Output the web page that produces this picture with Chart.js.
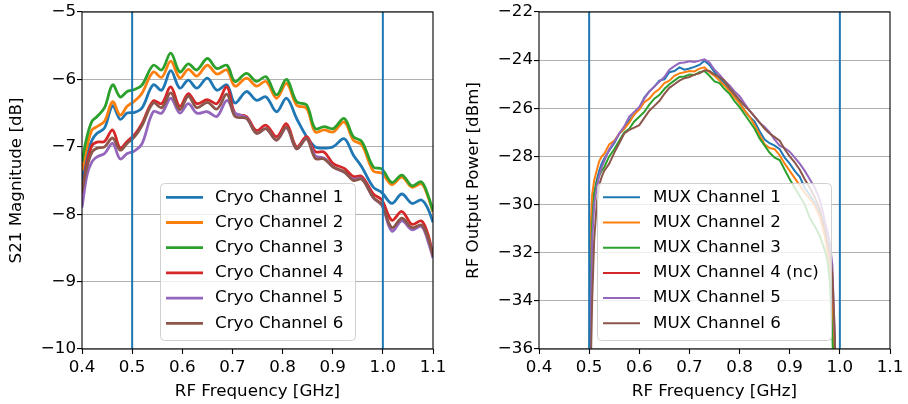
<!DOCTYPE html>
<html>
<head>
<meta charset="utf-8">
<script src="https://cdn.jsdelivr.net/npm/chart.js@4.4.1/dist/chart.umd.min.js"></script>
<style>
    body { margin: 0; background: #fff; }
    #wrap { width: 908px; height: 404px; display: flex; }
    canvas { display: block; }
</style>
</head>
<body>
<div id="wrap">
    <canvas id="chart-cryo" width="454" height="404"></canvas>
    <canvas id="chart-mux" width="454" height="404"></canvas>
</div>
<script>
// left panel: cryo S21 vs frequency
var cryoFreq = [0.400, 0.410, 0.420, 0.430, 0.445, 0.461, 0.476, 0.490, 0.505, 0.520, 0.542, 0.559, 0.577, 0.595, 0.612, 0.629, 0.650, 0.669, 0.689, 0.705, 0.728, 0.748, 0.767, 0.788, 0.808, 0.828, 0.848, 0.865, 0.883, 0.901, 0.923, 0.941, 0.958, 0.981, 0.998, 1.018, 1.038, 1.058, 1.077, 1.090, 1.100];
var cryoCh1 = [-7.50, -7.10, -6.90, -6.80, -6.72, -6.39, -6.59, -6.50, -6.49, -6.42, -6.08, -6.16, -5.87, -6.13, -6.01, -6.13, -5.98, -6.16, -6.08, -6.35, -6.18, -6.31, -6.26, -6.48, -6.28, -6.58, -6.85, -7.00, -7.02, -7.00, -6.88, -7.12, -7.30, -7.60, -7.68, -7.84, -7.70, -7.84, -7.79, -7.92, -8.12];
var cryoCh2 = [-7.35, -7.00, -6.75, -6.70, -6.62, -6.33, -6.53, -6.40, -6.32, -6.20, -5.89, -5.97, -5.73, -5.98, -5.85, -5.95, -5.79, -5.92, -5.86, -6.10, -5.98, -6.10, -6.03, -6.28, -6.06, -6.38, -6.43, -6.78, -6.75, -6.78, -6.63, -6.90, -6.97, -7.36, -7.39, -7.56, -7.45, -7.60, -7.55, -7.74, -7.97];
var cryoCh3 = [-7.22, -6.85, -6.62, -6.55, -6.42, -6.08, -6.26, -6.18, -6.15, -6.08, -5.79, -5.86, -5.61, -5.89, -5.77, -5.86, -5.69, -5.84, -5.79, -6.03, -5.91, -6.03, -5.96, -6.23, -6.00, -6.33, -6.38, -6.73, -6.70, -6.73, -6.58, -6.85, -6.92, -7.30, -7.33, -7.53, -7.42, -7.58, -7.52, -7.72, -7.95];
var cryoCh4 = [-7.70, -7.25, -6.98, -6.93, -6.92, -6.75, -7.02, -6.92, -6.82, -6.65, -6.32, -6.36, -6.11, -6.40, -6.21, -6.36, -6.30, -6.36, -6.11, -6.50, -6.55, -6.76, -6.68, -6.85, -6.66, -7.00, -6.85, -7.07, -7.08, -7.25, -7.32, -7.44, -7.44, -7.70, -7.79, -8.09, -7.96, -8.15, -8.10, -8.30, -8.62];
var cryoCh5 = [-7.90, -7.42, -7.22, -7.15, -7.10, -6.95, -7.18, -7.10, -7.06, -6.95, -6.48, -6.50, -6.28, -6.50, -6.36, -6.50, -6.48, -6.55, -6.31, -6.50, -6.57, -6.80, -6.73, -6.90, -6.72, -7.03, -6.88, -7.13, -7.17, -7.30, -7.38, -7.48, -7.47, -7.76, -7.87, -8.25, -8.10, -8.23, -8.18, -8.40, -8.65];
var cryoCh6 = [-7.65, -7.30, -7.08, -7.02, -7.00, -6.87, -7.05, -6.95, -6.85, -6.68, -6.35, -6.42, -6.20, -6.45, -6.25, -6.42, -6.34, -6.44, -6.22, -6.55, -6.58, -6.80, -6.73, -6.90, -6.71, -7.03, -6.88, -7.17, -7.18, -7.30, -7.37, -7.50, -7.48, -7.75, -7.86, -8.20, -8.06, -8.20, -8.16, -8.35, -8.62];
var cryoLabels = ['Cryo Channel 1', 'Cryo Channel 2', 'Cryo Channel 3', 'Cryo Channel 4', 'Cryo Channel 5', 'Cryo Channel 6'];

// right panel: MUX output power vs frequency
var muxFreq = [0.500, 0.502, 0.504, 0.506, 0.510, 0.515, 0.520, 0.525,
    0.53, 0.54, 0.55, 0.56, 0.57, 0.58, 0.59, 0.60, 0.61, 0.62, 0.63, 0.64, 0.65, 0.66, 0.67, 0.68, 0.69, 0.70, 0.71, 0.72,
    0.73, 0.74, 0.75, 0.76, 0.77, 0.78, 0.79, 0.80, 0.81, 0.82, 0.83, 0.84, 0.85, 0.86, 0.87, 0.88, 0.89, 0.90, 0.91, 0.92,
    0.93, 0.94, 0.95, 0.96, 0.965, 0.970, 0.975, 0.980, 0.985, 0.990, 0.995];
var muxCh1 = [-40, -34, -31.5, -30.3, -29.5, -29.0, -28.6, -28.3,
    -28.1, -27.75, -27.45, -27.05, -26.85, -26.5, -26.25, -26.0, -25.55, -25.3, -25.1, -24.85, -24.8, -24.5, -24.45, -24.3, -24.4, -24.35, -24.28, -24.2,
    -24.02, -24.2, -24.5, -24.75, -24.98, -25.2, -25.5, -25.75, -26.1, -26.35, -26.55, -26.95, -27.3, -27.45, -27.55, -27.7, -28.05, -28.3, -28.6, -28.85,
    -29.3, -29.6, -29.95, -30.4, -30.8, -31.2, -31.7, -32.4, -33.6, -36.5, -42];
var muxCh2 = [-39, -33, -30.5, -29.6, -29.0, -28.6, -28.2, -28.0,
    -27.9, -27.5, -27.35, -27.05, -26.85, -26.6, -26.25, -26.05, -25.75, -25.6, -25.35, -25.2, -24.95, -24.85, -24.65, -24.55, -24.5, -24.45, -24.47, -24.35,
    -24.3, -24.5, -24.65, -24.85, -25.05, -25.3, -25.55, -25.8, -26.1, -26.35, -26.7, -27.1, -27.5, -27.65, -27.7, -27.95, -28.3, -28.6, -28.9, -29.2,
    -29.5, -29.75, -30.05, -30.5, -30.9, -31.3, -31.9, -32.6, -34.0, -37, -42];
var muxCh3 = [-40, -35, -32.5, -30.8, -29.6, -29.1, -28.8, -28.6,
    -28.45, -28.0, -27.7, -27.35, -27.0, -26.85, -26.55, -26.35, -26.15, -25.85, -25.6, -25.45, -25.2, -25.0, -24.85, -24.7, -24.68, -24.6, -24.62, -24.5,
    -24.45, -24.65, -24.88, -24.95, -25.2, -25.4, -25.7, -25.95, -26.25, -26.55, -26.85, -27.25, -27.55, -27.85, -28.05, -28.15, -28.55, -28.95, -29.3, -29.65,
    -30.0, -30.55, -30.9, -31.3, -31.6, -31.9, -32.3, -33.2, -35.5, -38, -42];
var muxCh4 = []; // nc: no trace in range
var muxCh5 = [-41, -36, -33.5, -31.5, -30.0, -29.3, -28.8, -28.45,
    -28.2, -27.7, -27.4, -27.05, -26.75, -26.35, -26.15, -25.95, -25.6, -25.3, -25.1, -24.9, -24.7, -24.4, -24.25, -24.12, -24.1, -24.05, -24.08, -24.02,
    -23.97, -24.1, -24.4, -24.6, -24.85, -25.05, -25.3, -25.5, -25.8, -26.1, -26.35, -26.6, -26.78, -27.0, -27.3, -27.55, -27.65, -27.8, -28.05, -28.3,
    -28.6, -28.95, -29.3, -29.8, -30.2, -30.7, -31.1, -31.6, -32.5, -35.5, -42];
var muxCh6 = [-42, -38, -36, -34.0, -31.5, -30.0, -29.2, -28.85,
    -28.6, -28.3, -27.85, -27.45, -27.05, -26.9, -26.8, -26.7, -26.4, -26.1, -25.9, -25.7, -25.4, -25.15, -25.0, -24.85, -24.75, -24.7, -24.6, -24.55,
    -24.42, -24.45, -24.6, -24.7, -24.85, -25.15, -25.4, -25.65, -25.9, -26.1, -26.35, -26.6, -26.85, -27.05, -27.2, -27.35, -27.7, -28.0, -28.25, -28.55,
    -28.95, -29.3, -29.7, -30.2, -30.6, -31.0, -31.5, -32.0, -32.9, -35.5, -42];
var muxLabels = ['MUX Channel 1', 'MUX Channel 2', 'MUX Channel 3', 'MUX Channel 4 (nc)', 'MUX Channel 5', 'MUX Channel 6'];

var bandEdges = [0.5, 1.0];
var colors = ['#1f77b4', '#ff7f0e', '#2ca02c', '#d62728', '#9467bd', '#8c564b'];

var FONT_FAMILY = "'DejaVu Sans', sans-serif";
var FONT_SIZE = 16.7;

// draws the axes frame and the legend box inside the plot
var innerLegend = {
    id: 'innerLegend',
    afterDatasetsDraw: function (chart, args, opts) {
        var ctx = chart.ctx;
        var a = chart.chartArea;
        ctx.save();
        ctx.strokeStyle = '#000';
        ctx.lineWidth = 1.1;
        ctx.strokeRect(a.left, a.top, a.right - a.left, a.bottom - a.top);

        ctx.beginPath();
        ctx.roundRect(opts.x + 0.5, opts.y + 0.5, opts.w, opts.h, 4);
        ctx.fillStyle = 'rgba(255,255,255,0.8)';
        ctx.fill();
        ctx.strokeStyle = '#d0d0d0';
        ctx.lineWidth = 1;
        ctx.stroke();

        var items = chart.data.datasets.filter(function (d) { return d.inLegend; });
        ctx.font = FONT_SIZE + 'px ' + FONT_FAMILY;
        ctx.textBaseline = 'middle';
        ctx.textAlign = 'left';
        for (var i = 0; i < items.length; i++) {
            var y = opts.rowY + i * opts.rowStep;
            ctx.strokeStyle = items[i].borderColor;
            ctx.lineWidth = items[i].borderWidth;
            ctx.beginPath();
            ctx.moveTo(opts.x1, y);
            ctx.lineTo(opts.x2, y);
            ctx.stroke();
            ctx.fillStyle = '#000';
            ctx.fillText(items[i].label, opts.tx, y);
        }
        ctx.restore();
    }
};

function makeDatasets(freq, series, labels, width, tension, yMin, yMax) {
    var sets = [];
    for (var i = 0; i < series.length; i++) {
        sets.push({
            label: labels[i],
            inLegend: true,
            data: series[i].map(function (v, k) { return { x: freq[k], y: v }; }),
            borderColor: colors[i],
            borderWidth: width,
            pointRadius: 0,
            tension: tension,
            fill: false,
            order: series.length - i
        });
    }
    bandEdges.forEach(function (e) {
        sets.push({
            label: 'edge ' + e,
            data: [{ x: e, y: yMin }, { x: e, y: yMax }],
            borderColor: '#1f77b4',
            borderWidth: 2,
            pointRadius: 0,
            clip: 0,
            order: -1
        });
    });
    return sets;
}

function makeScales(yMin, yMax, yStep, yTitle, yWidth, yTitlePad) {
    var tickFont = { family: FONT_FAMILY, size: FONT_SIZE };
    return {
        x: {
            type: 'linear', min: 0.4, max: 1.1,
            ticks: {
                stepSize: 0.1, color: '#000', font: tickFont, padding: 4, autoSkip: false, maxRotation: 0,
                callback: function (v) { return Number(v).toFixed(1); }
            },
            grid: { drawOnChartArea: false, drawTicks: true, tickLength: 5, tickColor: '#000', tickWidth: 1.1 },
            border: { display: false },
            title: { display: true, text: 'RF Frequency [GHz]', color: '#000', font: tickFont, padding: { top: 0, bottom: 2.3 } },
            afterFit: function (s) { s.height = 55; }
        },
        y: {
            type: 'linear', min: yMin, max: yMax,
            ticks: {
                stepSize: yStep, color: '#000', font: tickFont, padding: 1,
                callback: function (v) { return String(v).replace('-', '\u2212'); }
            },
            grid: { color: '#b0b0b0', lineWidth: 1.1, drawTicks: true, tickLength: 5, tickColor: '#000', tickWidth: 1.1 },
            border: { display: false },
            title: { display: true, text: yTitle, color: '#000', font: tickFont, padding: { top: yTitlePad, bottom: 0 } },
            afterFit: function (s) { s.width = yWidth; }
        }
    };
}

function drawChart_(canvasId, datasets, scales, padRight, legendOpts) {
    var ctx = document.getElementById(canvasId).getContext('2d');
    return new Chart(ctx, {
        type: 'line',
        data: { datasets: datasets },
        options: {
            responsive: false,
            animation: false,
            events: [],
            layout: { padding: { left: 0, top: 12, right: padRight, bottom: 0 } },
            scales: scales,
            plugins: {
                legend: { display: false },
                tooltip: { enabled: false },
                innerLegend: legendOpts
            }
        },
        plugins: [innerLegend]
    });
}

drawChart_('chart-cryo',
    makeDatasets(cryoFreq, [cryoCh1, cryoCh2, cryoCh3, cryoCh4, cryoCh5, cryoCh6], cryoLabels, 2.8, 0.35, -10, -5),
    makeScales(-10, -5, 1, 'S21 Magnitude [dB]', 82, 6.7),
    21,
    { x: 160, y: 183, w: 195, h: 157, x1: 166, x2: 203, tx: 215, rowY: 197.3, rowStep: 25.2 });

drawChart_('chart-mux',
    makeDatasets(muxFreq, [muxCh1, muxCh2, muxCh3, muxCh4, muxCh5, muxCh6], muxLabels, 2, 0, -36, -22),
    makeScales(-36, -22, 2, 'RF Output Power [dBm]', 85, 9.3),
    18,
    { x: 143, y: 183, w: 234, h: 157, x1: 149, x2: 186, tx: 199, rowY: 197.3, rowStep: 25.2 });
</script>
</body>
</html>
